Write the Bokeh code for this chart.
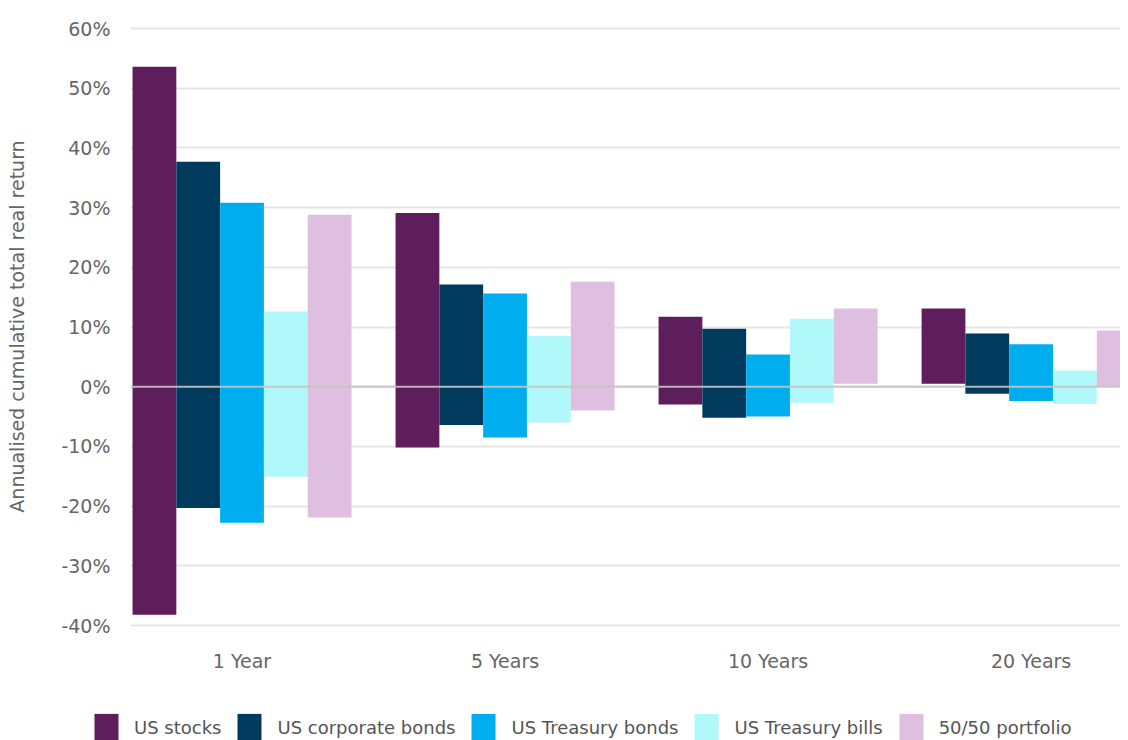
from bokeh.plotting import figure
from bokeh.layouts import column, row
from bokeh.models import (Range1d, FixedTicker, PrintfTickFormatter, Span,
                          ColumnDataSource, Legend, LegendItem)
from bokeh.embed import file_html
from bokeh.resources import INLINE

# ---- data (annualised cumulative total real return, %) ----
horizons = ["1 Year", "5 Years", "10 Years", "20 Years"]
series = ["US stocks", "US corporate bonds", "US Treasury bonds",
          "US Treasury bills", "50/50 portfolio"]
colors = ["#5E1D5B", "#003A5D", "#00AEEF", "#B0F8FA", "#DEBFE0"]

stocks_high = [53.6, 29.1, 11.7, 13.1]
stocks_low = [-38.2, -10.2, -3.0, 0.5]
corp_high = [37.7, 17.1, 9.7, 8.9]
corp_low = [-20.3, -6.4, -5.2, -1.2]
tbond_high = [30.8, 15.6, 5.4, 7.1]
tbond_low = [-22.8, -8.5, -5.0, -2.4]
tbill_high = [12.6, 8.5, 11.4, 2.7]
tbill_low = [-15.1, -6.0, -2.7, -2.9]
mix_high = [28.8, 17.6, 13.1, 9.4]
mix_low = [-21.9, -4.0, 0.5, 0.1]

highs = [stocks_high, corp_high, tbond_high, tbill_high, mix_high]
lows = [stocks_low, corp_low, tbond_low, tbill_low, mix_low]

y_ticks = [-40, -30, -20, -10, 0, 10, 20, 30, 40, 50, 60]

FONT = "DejaVu Sans"
TXT = "#666666"

p = figure(width=1120, height=680, output_backend="svg", toolbar_location=None,
           x_range=Range1d(-0.424, 3.340), y_range=Range1d(-41.17, 61.34),
           min_border_left=130, min_border_right=0, min_border_top=20,
           min_border_bottom=48)

bar_w = 0.1665
for k, name in enumerate(series):
    xs = [i + (k - 2) * bar_w for i in range(len(horizons))]
    src = ColumnDataSource(dict(x=xs, top=highs[k], bottom=lows[k]))
    p.vbar(x="x", top="top", bottom="bottom", width=bar_w, source=src,
           fill_color=colors[k], line_color=None)

zero = Span(location=0, dimension="width", line_color="#c4c4c4",
            line_alpha=0.9, line_width=2, level="overlay")
p.add_layout(zero)

# axes
p.xaxis.ticker = FixedTicker(ticks=list(range(len(horizons))))
p.xaxis.major_label_overrides = {i: h for i, h in enumerate(horizons)}
p.yaxis.ticker = FixedTicker(ticks=y_ticks)
p.yaxis.formatter = PrintfTickFormatter(format="%d%%")
for ax in (p.xaxis, p.yaxis):
    ax.axis_line_color = None
    ax.major_tick_line_color = None
    ax.minor_tick_line_color = None
    ax.major_tick_out = 0
    ax.major_tick_in = 0
    ax.minor_tick_out = 0
    ax.minor_tick_in = 0
    ax.major_label_text_font = FONT
    ax.major_label_text_font_size = "19px"
    ax.major_label_text_color = TXT
p.xaxis.major_label_standoff = 17
p.yaxis.major_label_standoff = 20
p.yaxis.axis_label = "Annualised cumulative total real return"
p.yaxis.axis_label_text_font = FONT
p.yaxis.axis_label_text_font_size = "19px"
p.yaxis.axis_label_text_font_style = "normal"
p.yaxis.axis_label_text_color = TXT
p.yaxis.axis_label_standoff = 30

p.xgrid.grid_line_color = None
p.ygrid.ticker = FixedTicker(ticks=y_ticks)
p.ygrid.grid_line_color = "#e6e6e6"
p.ygrid.grid_line_width = 2
p.outline_line_color = None

# legend strip (separate figure so the legend is not clipped by the frame)
q = figure(width=1120, height=60, output_backend="svg", toolbar_location=None,
           x_axis_type=None, y_axis_type=None, x_range=Range1d(0, 1),
           y_range=Range1d(0, 1), min_border=0, min_border_left=0,
           min_border_right=0, min_border_top=0, min_border_bottom=0)
q.outline_line_color = None
q.xgrid.grid_line_color = None
q.ygrid.grid_line_color = None
items = []
for k, name in enumerate(series):
    # zero-size proxy glyph, only used for the legend swatch
    r = q.vbar(x=[0], top=[0], bottom=[0], width=0, fill_color=colors[k],
               line_color=None)
    items.append(LegendItem(label=name, renderers=[r]))

lg = Legend(items=items, orientation="horizontal", location=(91, -4),
            padding=0, margin=0, spacing=13, border_line_color=None,
            background_fill_alpha=0, glyph_width=30, glyph_height=34,
            label_standoff=13, label_text_font=FONT,
            label_text_font_size="18px", label_text_color="#555555")
q.add_layout(lg)

layout = column(p, row(q), spacing=0)
open("out.html", "w").write(file_html(layout, INLINE))
